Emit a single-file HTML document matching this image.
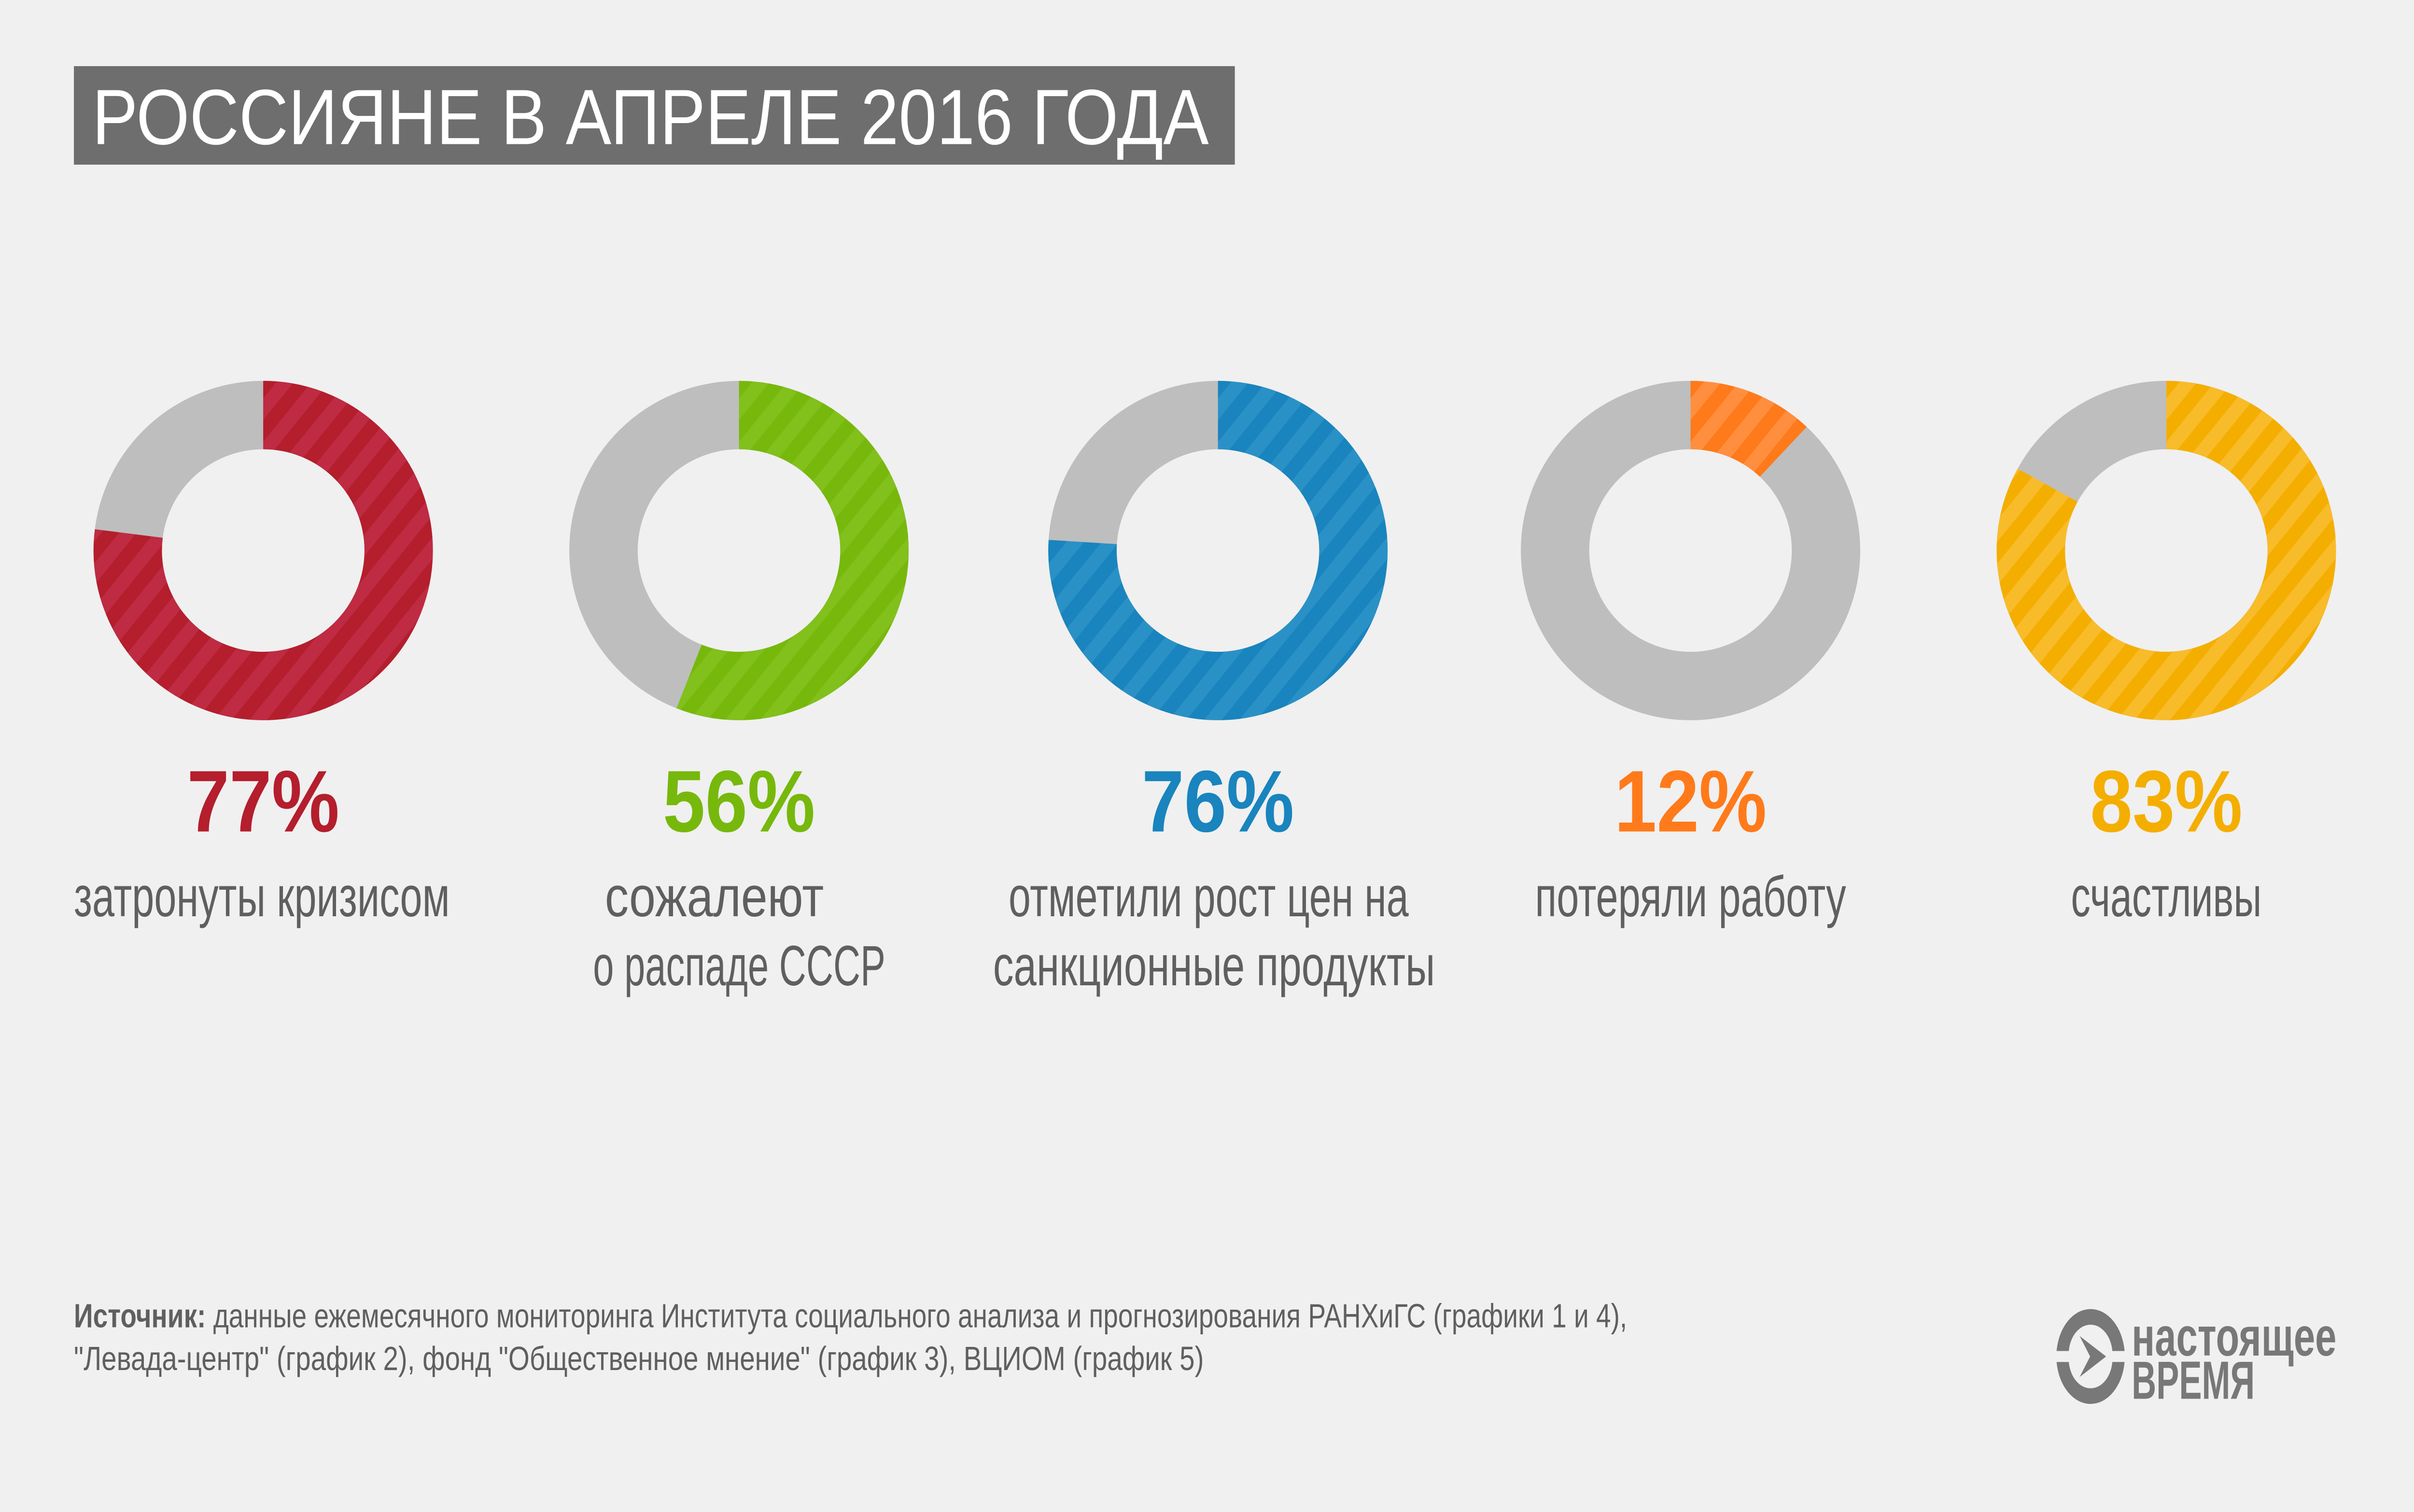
<!DOCTYPE html>
<html><head><meta charset="utf-8"><style>
html,body{margin:0;padding:0;background:#f0f0f0;width:100%;height:100%;overflow:hidden;}
svg{display:block;position:absolute;left:0;top:0;width:100vw;height:59.1837vw;}
</style></head><body>
<svg viewBox="0 0 5292 3132" preserveAspectRatio="none" xmlns="http://www.w3.org/2000/svg">
<defs>
<pattern id="pr" width="60" height="60" patternUnits="userSpaceOnUse" patternTransform="rotate(129)"><rect width="60" height="60" fill="#be2b42"/><rect width="30" height="60" fill="#b41e2d"/></pattern>
<pattern id="pg" width="60" height="60" patternUnits="userSpaceOnUse" patternTransform="rotate(129)"><rect width="60" height="60" fill="#82c01c"/><rect width="30" height="60" fill="#77b80c"/></pattern>
<pattern id="pb" width="60" height="60" patternUnits="userSpaceOnUse" patternTransform="rotate(129)"><rect width="60" height="60" fill="#2a91c6"/><rect width="30" height="60" fill="#1984bd"/></pattern>
<pattern id="po" width="60" height="60" patternUnits="userSpaceOnUse" patternTransform="rotate(129)"><rect width="60" height="60" fill="#ff8f3f"/><rect width="30" height="60" fill="#ff7a1a"/></pattern>
<pattern id="py" width="60" height="60" patternUnits="userSpaceOnUse" patternTransform="rotate(129)"><rect width="60" height="60" fill="#f8bb2a"/><rect width="30" height="60" fill="#f4ae00"/></pattern>
</defs>
<rect width="5292" height="3132" fill="#f0f0f0"/>
<rect x="162" y="145" width="2545" height="216" fill="#6e6e6e"/>
<text x="202" y="316" font-family="Liberation Sans Narrow, Liberation Sans, sans-serif" font-size="172" fill="#fff" textLength="2448" lengthAdjust="spacingAndGlyphs">РОССИЯНЕ В АПРЕЛЕ 2016 ГОДА</text>

<g fill="none" stroke-width="150">
<g transform="translate(577,1207) rotate(-90)"><circle r="297" stroke="#bebebe"/><circle r="297" stroke="url(#pr)" stroke-dasharray="1436.9 2000"/></g>
<g transform="translate(1620,1207) rotate(-90)"><circle r="297" stroke="#bebebe"/><circle r="297" stroke="url(#pg)" stroke-dasharray="1045 2000"/></g>
<g transform="translate(2670,1207) rotate(-90)"><circle r="297" stroke="#bebebe"/><circle r="297" stroke="url(#pb)" stroke-dasharray="1418.2 2000"/></g>
<g transform="translate(3706,1207) rotate(-90)"><circle r="297" stroke="#bebebe"/><circle r="297" stroke="url(#po)" stroke-dasharray="223.9 2000"/></g>
<g transform="translate(4749,1207) rotate(-90)"><circle r="297" stroke="#bebebe"/><circle r="297" stroke="url(#py)" stroke-dasharray="1548.9 2000"/></g>
</g>

<g font-family="Liberation Sans Narrow, Liberation Sans, sans-serif" font-weight="bold" font-size="192" text-anchor="middle">
<text x="577" y="1823" fill="#b41e2d" textLength="334" lengthAdjust="spacingAndGlyphs">77%</text>
<text x="1620" y="1823" fill="#77b80c" textLength="334" lengthAdjust="spacingAndGlyphs">56%</text>
<text x="2670" y="1823" fill="#1984bd" textLength="334" lengthAdjust="spacingAndGlyphs">76%</text>
<text x="3706" y="1823" fill="#ff7a1a" textLength="334" lengthAdjust="spacingAndGlyphs">12%</text>
<text x="4749" y="1823" fill="#f4ae00" textLength="334" lengthAdjust="spacingAndGlyphs">83%</text>
</g>

<g font-family="Liberation Sans Narrow, Liberation Sans, sans-serif" font-size="125" fill="#5f5f5f">
<text x="162" y="2009" textLength="824" lengthAdjust="spacingAndGlyphs">затронуты кризисом</text>
<text x="1326" y="2009" textLength="480" lengthAdjust="spacingAndGlyphs">сожалеют</text>
<text x="1300" y="2160" textLength="641" lengthAdjust="spacingAndGlyphs">о распаде СССР</text>
<text x="2211" y="2009" textLength="877" lengthAdjust="spacingAndGlyphs">отметили рост цен на</text>
<text x="2177" y="2160" textLength="969" lengthAdjust="spacingAndGlyphs">санкционные продукты</text>
<text x="3365" y="2009" textLength="682" lengthAdjust="spacingAndGlyphs">потеряли работу</text>
<text x="4540" y="2009" textLength="418" lengthAdjust="spacingAndGlyphs">счастливы</text>
</g>

<g font-family="Liberation Sans Narrow, Liberation Sans, sans-serif" font-size="74" fill="#5f5f5f">
<text x="162" y="2910" textLength="3405" lengthAdjust="spacingAndGlyphs"><tspan font-weight="bold">Источник:</tspan> данные ежемесячного мониторинга Института социального анализа и прогнозирования РАНХиГС (графики 1 и 4),</text>
<text x="162" y="3004" textLength="2477" lengthAdjust="spacingAndGlyphs">"Левада-центр" (график 2),  фонд "Общественное мнение" (график 3),  ВЦИОМ (график 5)</text>
</g>

<g fill="#787878">
<path d="M4508.5,2962 A75,104 0 0 1 4657.5,2962 L4630.7,2962 A48,65 0 0 0 4535.3,2962 Z"/>
<path d="M4508.5,2986 A75,104 0 0 0 4657.5,2986 L4630.7,2986 A48,65 0 0 1 4535.3,2986 Z"/>
<path d="M4559,2929 L4617,2974 L4559,3019 L4582,2974 Z"/>
<g font-family="Liberation Sans Narrow, Liberation Sans, sans-serif" font-weight="bold">
<text x="4673" y="2972" font-size="120" textLength="449" lengthAdjust="spacingAndGlyphs">настоящее</text>
<text x="4673" y="3067" font-size="118" textLength="270" lengthAdjust="spacingAndGlyphs">ВРЕМЯ</text>
</g>
</g>
</svg>
</body></html>
